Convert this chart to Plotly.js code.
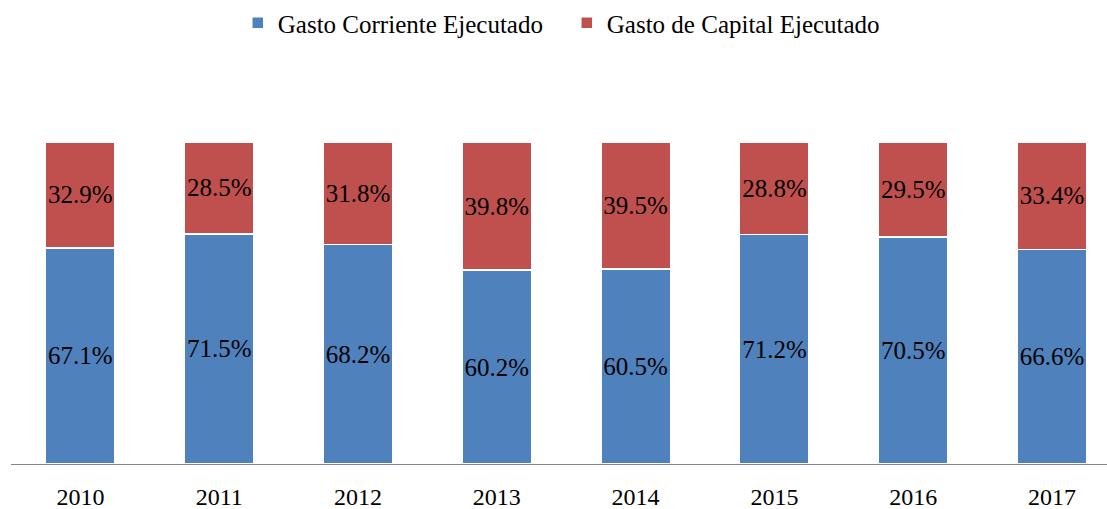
<!DOCTYPE html>
<html>
<head>
<meta charset="utf-8">
<script src="https://cdn.plot.ly/plotly-3.0.1.min.js"></script>
<style>html,body{margin:0;padding:0;background:#fff;}#chart{width:1107px;height:509px;}</style>
</head>
<body>
<div id="chart"></div>
<script>
const years = ['2010', '2011', '2012', '2013', '2014', '2015', '2016', '2017'];
const gastoCorriente = [67.1, 71.5, 68.2, 60.2, 60.5, 71.2, 70.5, 66.6];
const gastoCapital = [32.9, 28.5, 31.8, 39.8, 39.5, 28.8, 29.5, 33.4];
const seriesNames = ['Gasto Corriente Ejecutado', 'Gasto de Capital Ejecutado'];

const FONT = 'Liberation Serif';
const fmt = v => v.toFixed(1) + '%';

const traces = [
  {
    type: 'bar', name: seriesNames[0], x: years, y: gastoCorriente,
    text: gastoCorriente.map(fmt), textposition: 'inside', insidetextanchor: 'middle',
    constraintext: 'none', textangle: 0,
    textfont: {family: FONT, size: 25, color: '#000'},
    marker: {color: '#4F81BD', line: {color: '#ffffff', width: 1.5}},
    width: 0.5, hoverinfo: 'none'
  },
  {
    type: 'bar', name: seriesNames[1], x: years, y: gastoCapital,
    text: gastoCapital.map(fmt), textposition: 'inside', insidetextanchor: 'middle',
    constraintext: 'none', textangle: 0,
    textfont: {family: FONT, size: 25, color: '#000'},
    marker: {color: '#C0504D', line: {color: '#ffffff', width: 1.5}},
    width: 0.5, hoverinfo: 'none'
  }
];

const layout = {
  width: 1107, height: 509,
  barmode: 'stack',
  paper_bgcolor: '#fff', plot_bgcolor: '#fff',
  margin: {l: 11, r: 0, t: 142, b: 45},
  font: {family: FONT, size: 24, color: '#000'},
  showlegend: true,
  legend: {
    orientation: 'h', x: 0.512, xanchor: 'center', xref: 'container',
    y: 1.0, yanchor: 'top', yref: 'container',
    font: {family: FONT, size: 25, color: '#000'},
    traceorder: 'normal', itemwidth: 30, entrywidth: 284
  },
  xaxis: {
    type: 'category', range: [-0.5, 7.396],
    showline: true, linecolor: '#868686', linewidth: 1,
    ticks: 'outside', ticklen: 11, tickcolor: 'rgba(0,0,0,0)',
    tickfont: {family: FONT, size: 24, color: '#000'},
    showgrid: false, zeroline: false, fixedrange: true
  },
  yaxis: {
    range: [0, 100], visible: false, showgrid: false, zeroline: false, fixedrange: true
  }
};

Plotly.newPlot('chart', traces, layout, {displayModeBar: false, staticPlot: true});
</script>
</body>
</html>
